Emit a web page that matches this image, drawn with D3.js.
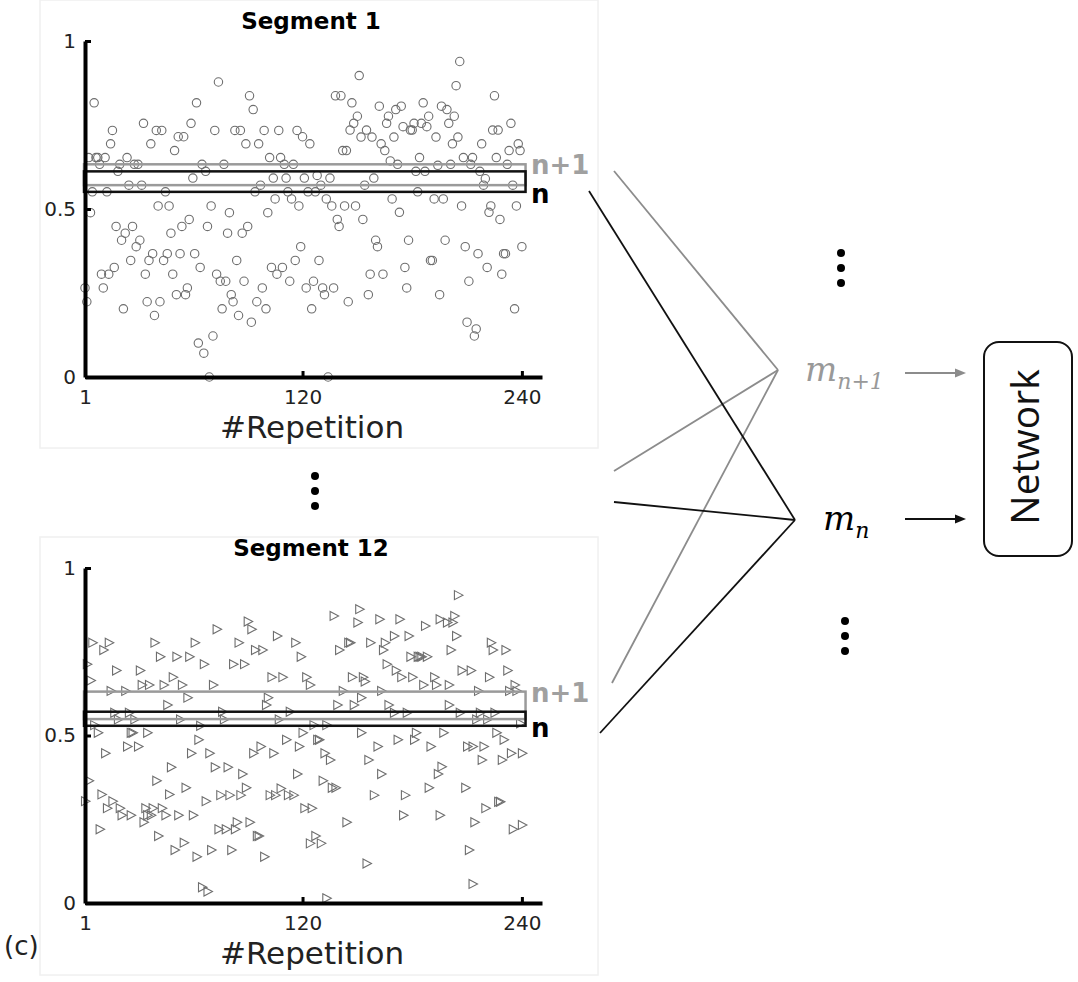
<!DOCTYPE html>
<html>
<head>
<meta charset="utf-8">
<script src="https://cdn.jsdelivr.net/npm/d3@7"></script>
<style>
  body { margin: 0; background: #fff; }
  svg { font-family: "DejaVu Sans", sans-serif; }
</style>
</head>
<body>
<svg id="fig" width="1078" height="982"></svg>
<script>
// segment 1: one value per repetition (1..240)
var seg1Values = [
  0.265, 0.224, 0.653, 0.489, 0.551, 0.816, 0.653, 0.653, 0.633, 0.306,
  0.265, 0.653, 0.551, 0.306, 0.694, 0.734, 0.326, 0.448, 0.612, 0.633,
  0.407, 0.203, 0.428, 0.653, 0.571, 0.347, 0.448, 0.633, 0.388, 0.633,
  0.407, 0.571, 0.755, 0.306, 0.224, 0.347, 0.694, 0.367, 0.183, 0.734,
  0.509, 0.224, 0.734, 0.347, 0.551, 0.367, 0.509, 0.428, 0.306, 0.674,
  0.245, 0.715, 0.367, 0.448, 0.715, 0.245, 0.265, 0.469, 0.755, 0.592,
  0.367, 0.816, 0.101, 0.326, 0.633, 0.071, 0.612, 0.448, 0.000, 0.509,
  0.122, 0.734, 0.306, 0.878, 0.285, 0.203, 0.633, 0.285, 0.428, 0.489,
  0.245, 0.224, 0.734, 0.347, 0.183, 0.734, 0.428, 0.285, 0.694, 0.448,
  0.837, 0.163, 0.796, 0.551, 0.224, 0.694, 0.571, 0.265, 0.734, 0.203,
  0.489, 0.653, 0.326, 0.592, 0.530, 0.306, 0.734, 0.653, 0.326, 0.633,
  0.592, 0.551, 0.285, 0.530, 0.633, 0.347, 0.734, 0.509, 0.388, 0.715,
  0.592, 0.265, 0.551, 0.694, 0.203, 0.285, 0.551, 0.600, 0.347, 0.571,
  0.265, 0.245, 0.530, 0.000, 0.592, 0.509, 0.265, 0.837, 0.469, 0.448,
  0.837, 0.674, 0.509, 0.674, 0.224, 0.735, 0.816, 0.755, 0.509, 0.776,
  0.897, 0.714, 0.469, 0.571, 0.735, 0.245, 0.306, 0.714, 0.592, 0.407,
  0.388, 0.806, 0.694, 0.306, 0.674, 0.755, 0.776, 0.643, 0.530, 0.714,
  0.796, 0.633, 0.490, 0.806, 0.745, 0.326, 0.265, 0.407, 0.735, 0.735,
  0.755, 0.612, 0.551, 0.653, 0.755, 0.816, 0.612, 0.745, 0.776, 0.347,
  0.347, 0.530, 0.714, 0.630, 0.245, 0.806, 0.530, 0.407, 0.796, 0.755,
  0.633, 0.694, 0.776, 0.867, 0.714, 0.939, 0.509, 0.653, 0.388, 0.163,
  0.285, 0.633, 0.653, 0.122, 0.143, 0.367, 0.612, 0.694, 0.571, 0.590,
  0.326, 0.490, 0.509, 0.735, 0.837, 0.653, 0.735, 0.469, 0.306, 0.367,
  0.367, 0.633, 0.674, 0.755, 0.571, 0.203, 0.509, 0.694, 0.674, 0.388
];

// segment 12: [repetition, value]
var seg12Points = [
  [1,0.304],[2,0.713],[3,0.365],[4,0.664],[5,0.777],[6,0.531],[8,0.508],[9,0.220],[10,0.324],
  [11,0.755],[12,0.447],[13,0.283],[14,0.777],[15,0.633],[16,0.304],[17,0.568],[18,0.694],
  [19,0.548],[20,0.283],[21,0.262],[23,0.633],[24,0.467],[25,0.568],[26,0.262],[26,0.508],
  [27,0.508],[28,0.548],[30,0.467],[31,0.694],[32,0.651],[33,0.241],[34,0.283],[35,0.262],
  [35,0.508],[36,0.651],[37,0.262],[38,0.283],[39,0.777],[40,0.365],[41,0.200],[42,0.735],
  [43,0.283],[44,0.651],[45,0.262],[46,0.591],[47,0.324],[48,0.405],[49,0.674],[50,0.158],
  [51,0.735],[52,0.262],[53,0.548],[54,0.651],[55,0.180],[56,0.344],[57,0.613],[58,0.735],
  [59,0.447],[60,0.262],[61,0.777],[62,0.138],[63,0.487],[64,0.529],[65,0.047],[66,0.713],
  [67,0.304],[68,0.034],[69,0.447],[70,0.158],[71,0.651],[72,0.405],[73,0.817],[74,0.220],
  [75,0.322],[76,0.571],[77,0.548],[78,0.220],[79,0.405],[80,0.322],[81,0.158],[82,0.713],
  [83,0.220],[84,0.241],[85,0.777],[86,0.322],[87,0.385],[88,0.713],[89,0.344],[90,0.840],
  [91,0.241],[92,0.817],[93,0.447],[94,0.755],[95,0.200],[96,0.200],[97,0.467],[98,0.755],
  [99,0.138],[100,0.591],[101,0.613],[102,0.322],[103,0.674],[104,0.447],[105,0.322],
  [106,0.797],[107,0.548],[108,0.342],[109,0.674],[111,0.487],[112,0.322],[113,0.571],
  [115,0.322],[116,0.777],[117,0.385],[118,0.467],[119,0.735],[120,0.508],[121,0.283],
  [122,0.674],[124,0.651],[124,0.178],[125,0.283],[126,0.531],[127,0.200],[128,0.487],
  [129,0.487],[130,0.178],[131,0.365],[132,0.447],[133,0.531],[133,0.014],[135,0.427],
  [136,0.344],[137,0.857],[138,0.344],[139,0.591],[140,0.755],[142,0.633],[144,0.241],
  [145,0.777],[146,0.777],[147,0.674],[148,0.591],[150,0.837],[151,0.877],[152,0.613],
  [152,0.508],[153,0.674],[154,0.661],[155,0.118],[156,0.427],[157,0.777],[159,0.322],
  [161,0.467],[162,0.847],[163,0.633],[163,0.385],[164,0.755],[165,0.777],[166,0.713],
  [167,0.591],[170,0.797],[170,0.568],[171,0.694],[172,0.487],[173,0.847],[174,0.674],
  [175,0.262],[176,0.322],[177,0.568],[178,0.797],[179,0.735],[180,0.674],[181,0.487],
  [182,0.508],[183,0.735],[184,0.735],[185,0.735],[186,0.651],[187,0.827],[188,0.735],
  [189,0.344],[190,0.467],[192,0.674],[193,0.651],[194,0.385],[195,0.847],[195,0.262],
  [196,0.407],[197,0.508],[199,0.837],[200,0.651],[200,0.591],[201,0.755],[202,0.837],
  [203,0.857],[204,0.797],[205,0.919],[206,0.568],[207,0.694],[209,0.344],[210,0.467],
  [211,0.158],[212,0.694],[213,0.467],[213,0.057],[214,0.241],[215,0.548],[216,0.633],
  [217,0.568],[218,0.427],[219,0.467],[220,0.283],[221,0.548],[222,0.674],[223,0.777],
  [224,0.755],[225,0.568],[226,0.508],[227,0.302],[228,0.302],[229,0.427],[230,0.487],
  [231,0.755],[232,0.694],[233,0.633],[234,0.447],[235,0.220],[236,0.651],[237,0.633],
  [239,0.536],[240,0.447],[240,0.233]
];

var xTicks = [1, 120, 240];
var yTicks = [0, 0.5, 1];

// selected value ranges (lower, upper) for the two windows in each segment
var seg1Bands = [{name: "n+1", lo: 0.571, hi: 0.633}, {name: "n", lo: 0.551, hi: 0.612}];
var seg12Bands = [{name: "n+1", lo: 0.549, hi: 0.631}, {name: "n", lo: 0.529, hi: 0.571}];

var svg = d3.select("#fig");
var bandColor = {"n+1": "#9a9a9a", "n": "#111"};

var x = d3.scaleLinear().domain([1, 251]).range([85, 542]);

var panels = [
  {title: "Segment 1", top: 41, bottom: 377, frameTop: 0, frameBottom: 448,
   points: seg1Values.map(function(v, i) { return [i + 1, v]; }),
   bands: seg1Bands, marker: "circle"},
  {title: "Segment 12", top: 568, bottom: 903, frameTop: 537, frameBottom: 975,
   points: seg12Points, bands: seg12Bands, marker: "triangle"}
];

panels.forEach(function(p) {
  var y = d3.scaleLinear().domain([0, 1]).range([p.bottom, p.top]);

  // faint frame of the pasted sub figure
  svg.append("rect")
    .attr("x", 40).attr("y", p.frameTop)
    .attr("width", 558).attr("height", p.frameBottom - p.frameTop)
    .attr("fill", "none").attr("stroke", "#f0f0f0").attr("stroke-width", 1.5);

  var g = svg.append("g");

  // scatter
  if (p.marker === "circle") {
    g.selectAll("circle.pt")
      .data(p.points)
      .enter().append("circle")
      .attr("class", "pt")
      .attr("cx", function(d) { return x(d[0]); })
      .attr("cy", function(d) { return y(d[1]); })
      .attr("r", 4.2)
      .attr("fill", "none")
      .attr("stroke", "#6e6e6e")
      .attr("stroke-width", 1.1);
  } else {
    g.selectAll("path.pt")
      .data(p.points)
      .enter().append("path")
      .attr("class", "pt")
      .attr("d", "M-3.5,-4.5L5,0L-3.5,4.5Z")
      .attr("transform", function(d) { return "translate(" + x(d[0]) + "," + y(d[1]) + ")"; })
      .attr("fill", "none")
      .attr("stroke", "#6e6e6e")
      .attr("stroke-width", 1.1);
  }

  // selection windows
  p.bands.forEach(function(b) {
    g.append("rect")
      .attr("x", x(1) - 1)
      .attr("y", y(b.hi))
      .attr("width", x(242) - x(1) + 1)
      .attr("height", y(b.lo) - y(b.hi))
      .attr("fill", "none")
      .attr("stroke", bandColor[b.name])
      .attr("stroke-width", 2.5);
  });
  g.append("text")
    .attr("x", 531).attr("y", y(p.bands[0].hi) + 10)
    .attr("font-size", 26).attr("font-weight", "bold")
    .attr("fill", "#a0a0a0")
    .text(p.bands[0].name);
  g.append("text")
    .attr("x", 531).attr("y", y(p.bands[1].lo) + 11)
    .attr("font-size", 26).attr("font-weight", "bold")
    .attr("fill", "#000")
    .text(p.bands[1].name);

  // axes
  var yAxis = g.append("g")
    .attr("transform", "translate(85,0)")
    .call(d3.axisLeft(y).tickValues(yTicks).tickSize(-6).tickSizeOuter(0).tickPadding(9)
      .tickFormat(function(d) { return d === 0.5 ? "0.5" : d3.format("d")(d); }));
  var xAxis = g.append("g")
    .attr("transform", "translate(0," + p.bottom + ")")
    .call(d3.axisBottom(x).tickValues(xTicks).tickSize(-6).tickSizeOuter(0).tickPadding(13));

  [xAxis, yAxis].forEach(function(a) {
    a.attr("font-family", null);
    a.select(".domain").attr("stroke", "#000").attr("stroke-width", 4);
    a.selectAll(".tick line").attr("stroke", "#000").attr("stroke-width", 3);
    a.selectAll(".tick text").attr("font-size", 20).attr("fill", "#222");
  });

  // titles
  g.append("text")
    .attr("x", 311).attr("y", p.top - 12)
    .attr("text-anchor", "middle")
    .attr("font-size", 23).attr("font-weight", "bold")
    .text(p.title);
  g.append("text")
    .attr("x", 312).attr("y", p.bottom + 61)
    .attr("text-anchor", "middle")
    .attr("font-size", 31).attr("fill", "#222")
    .text("#Repetition");
});

// vertical ellipses
function vdots(cx, cy) {
  [-15, 0, 15].forEach(function(dy) {
    svg.append("circle").attr("cx", cx).attr("cy", cy + dy).attr("r", 4).attr("fill", "#000");
  });
}
vdots(315, 491);
vdots(841, 268);
vdots(845, 636);

// connections from the windows to the m values
var links = [
  {from: [614, 171], to: [778, 370], c: "#8c8c8c"},
  {from: [614, 471], to: [778, 370], c: "#8c8c8c"},
  {from: [612, 683], to: [778, 370], c: "#8c8c8c"},
  {from: [589, 191], to: [795, 520], c: "#111"},
  {from: [614, 502], to: [795, 520], c: "#111"},
  {from: [600, 733], to: [795, 520], c: "#111"}
];
svg.selectAll("line.link")
  .data(links)
  .enter().append("line")
  .attr("class", "link")
  .attr("x1", function(d) { return d.from[0]; })
  .attr("y1", function(d) { return d.from[1]; })
  .attr("x2", function(d) { return d.to[0]; })
  .attr("y2", function(d) { return d.to[1]; })
  .attr("stroke", function(d) { return d.c; })
  .attr("stroke-width", 1.8);

// m labels
var mn1 = svg.append("text").attr("x", 805).attr("y", 381)
  .style("font-family", "'DejaVu Serif', serif").style("font-style", "italic")
  .attr("font-size", 34).attr("fill", "#999");
mn1.append("tspan").text("m");
mn1.append("tspan").attr("dy", 8).attr("font-size", 22).text("n+1");

var mn = svg.append("text").attr("x", 823).attr("y", 530)
  .style("font-family", "'DejaVu Serif', serif").style("font-style", "italic")
  .attr("font-size", 34).attr("fill", "#000");
mn.append("tspan").text("m");
mn.append("tspan").attr("dy", 8).attr("font-size", 22).text("n");

// arrows into the network
function arrow(yPos, col) {
  svg.append("line").attr("x1", 905).attr("x2", 958).attr("y1", yPos).attr("y2", yPos)
    .attr("stroke", col).attr("stroke-width", 2);
  svg.append("path").attr("d", "M966," + yPos + "L955," + (yPos - 4.5) + "L955," + (yPos + 4.5) + "Z")
    .attr("fill", col);
}
arrow(373, "#8c8c8c");
arrow(519, "#111");

svg.append("rect")
  .attr("x", 984).attr("y", 342).attr("width", 88).attr("height", 214)
  .attr("rx", 15).attr("fill", "none").attr("stroke", "#111").attr("stroke-width", 2);
svg.append("text")
  .attr("transform", "translate(1039,447) rotate(-90)")
  .attr("text-anchor", "middle")
  .style("font-family", "'Open Sans', sans-serif").attr("font-size", 39).attr("fill", "#111")
  .text("Network");

svg.append("text").attr("x", 4).attr("y", 955)
  .attr("font-size", 26).attr("fill", "#222").text("(c)");
</script>
</body>
</html>
